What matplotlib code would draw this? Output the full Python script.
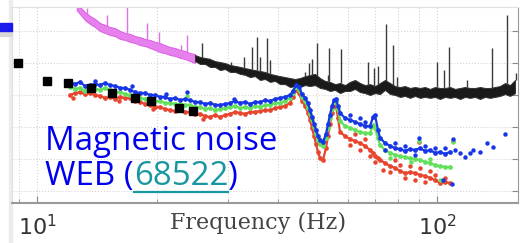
import numpy as np
import matplotlib
matplotlib.use("Agg")
from matplotlib import pyplot as plt
from matplotlib.lines import Line2D
from matplotlib.patches import Rectangle
from matplotlib.ticker import FixedLocator, LogLocator, NullFormatter

# y values are log10 of the noise amplitude (axis labels are cut off in the original)

# magenta trace (low frequency part): band top / bottom
mag_f = [12.57, 12.81, 13.18, 13.57, 13.96, 14.37, 14.79, 15.22, 15.67, 16.13, 16.60, 17.08,
         17.58, 18.09, 18.62, 19.17, 19.72, 20.30, 20.89, 21.50, 22.13, 22.78, 23.44, 24.13, 24.83]
mag_top = [3.90, 3.75, 3.59, 3.47, 3.38, 3.25, 3.19, 3.125, 3.09, 3.0, 2.94, 2.91,
           2.84, 2.81, 2.75, 2.72, 2.66, 2.625, 2.56, 2.5, 2.47, 2.41, 2.375, 2.31, 2.28]
mag_bot = [3.65, 3.53, 3.34, 3.22, 3.125, 3.0, 2.94, 2.875, 2.84, 2.75, 2.72, 2.66,
           2.625, 2.56, 2.53, 2.47, 2.41, 2.34, 2.31, 2.25, 2.22, 2.16, 2.125, 2.06, 2.0]
mag_spk_f = [13.34, 14.96, 16.79, 18.84, 20.18, 22.91, 23.71]
mag_spk_v = [3.72, 3.5, 3.81, 3.25, 2.97, 2.56, 2.875]

# black trace (high frequency part)
blk_f = [24.83, 25.56, 26.30, 27.07, 27.86, 28.68, 29.51, 30.37, 31.26, 32.17, 33.11, 34.08,
         35.08, 36.10, 37.15, 38.24, 39.36, 40.51, 41.69, 42.91, 44.16, 45.45, 46.77, 48.14,
         49.55, 51.00, 52.48, 54.01, 55.59, 57.21, 58.88, 60.60, 62.37, 64.19, 66.07, 68.00,
         69.98, 72.03, 74.13, 76.30, 78.52, 80.82, 83.18, 85.60, 88.10, 90.68, 93.33, 96.05,
         98.86, 101.7, 104.7, 107.8, 110.9, 114.2, 117.5, 120.9, 124.5, 128.1, 131.8, 135.7,
         139.6, 143.7, 147.9, 152.2, 156.7]
blk_top = [2.25, 2.19, 2.16, 2.125, 2.06, 2.03, 2.0, 1.94, 1.91, 1.88, 1.84, 1.81,
           1.78, 1.75, 1.72, 1.66, 1.625, 1.59, 1.56, 1.53, 1.5, 1.53, 1.59, 1.625,
           1.66, 1.53, 1.44, 1.41, 1.34, 1.375, 1.31, 1.41, 1.47, 1.375, 1.31, 1.34,
           1.28, 1.375, 1.47, 1.375, 1.28, 1.25, 1.28, 1.22, 1.25, 1.22, 1.25, 1.19,
           1.25, 1.22, 1.22, 1.25, 1.19, 1.22, 1.25, 1.22, 1.22, 1.25, 1.22, 1.22,
           1.25, 1.28, 1.375, 1.31, 1.47]
blk_bot = [2.06, 1.97, 1.97, 1.875, 1.875, 1.78, 1.81, 1.72, 1.72, 1.66, 1.63, 1.56,
           1.59, 1.47, 1.5, 1.41, 1.44, 1.34, 1.34, 1.25, 1.28, 1.25, 1.31, 1.28,
           1.31, 1.22, 1.19, 1.125, 1.16, 1.06, 1.125, 1.125, 1.19, 1.09, 1.06, 1.0,
           1.06, 1.03, 1.16, 1.03, 1.0, 0.94, 0.97, 0.91, 0.97, 0.91, 0.94, 0.91,
           0.94, 0.875, 0.94, 0.91, 0.94, 0.875, 0.94, 0.91, 0.94, 0.875, 0.94, 0.91,
           0.94, 0.97, 1.03, 0.97, 1.06]
blk_spk_f = [25.85, 26.92, 30.55, 32.92, 34.47, 35.48, 36.10, 37.58, 38.24, 46.77, 47.86, 48.70,
             50.12, 53.39, 53.70, 57.54, 67.22, 69.58, 71.19, 74.56, 77.62, 79.43, 100.0, 104.1,
             107.2, 118.9, 137.3, 149.6, 157.6]
blk_spk_v = [2.625, 2.16, 2.03, 2.19, 2.5, 2.81, 2.19, 2.78, 2.09, 1.72, 2.0, 2.125,
             2.625, 1.625, 2.47, 2.44, 2.03, 1.84, 1.91, 3.22, 2.56, 1.56, 2.03, 1.78,
             2.5, 1.47, 2.47, 3.5, 1.69]

# black squares
sq_f = [8.96, 10.59, 11.95, 13.65, 15.40, 17.58, 19.28, 22.65, 24.55]
sq_v = [1.99, 1.45, 1.39, 1.23, 1.07, 0.91, 0.82, 0.60, 0.50]

# dotted spectra (blue / green / red)
dot_f = [12.09, 12.45, 12.81, 13.18, 13.57, 13.96, 14.37, 14.79, 15.22, 15.67, 16.13, 16.60,
         17.08, 17.58, 18.09, 18.62, 19.17, 19.72, 20.30, 20.89, 21.50, 22.13, 22.78, 23.44,
         24.13, 24.83, 25.56, 26.30, 27.07, 27.86, 28.68, 29.51, 30.37, 31.26, 32.17, 33.11,
         34.08, 35.08, 36.10, 37.15, 38.24, 39.36, 40.51, 41.69, 42.91, 43.65, 44.42, 45.19,
         45.97, 46.77, 47.59, 48.14, 48.70, 49.26, 49.83, 50.41, 51.00, 51.88, 52.78, 53.39,
         54.01, 54.64, 55.27, 55.91, 56.56, 57.21, 58.88, 60.60, 62.37, 64.19, 66.07, 68.00,
         69.18, 69.98, 71.19, 72.03, 74.13, 76.30, 78.52, 80.82, 83.18, 85.60, 88.10, 90.68,
         93.33, 96.05, 98.86, 101.7, 104.7, 107.8]
blue_v = [1.41, 1.34, 1.41, 1.28, 1.31, 1.34, 1.31, 1.375, 1.31, 1.28, 1.22, 1.22,
          1.16, 1.09, 1.06, 1.06, 1.0, 1.0, 0.94, 0.94, 0.875, 0.91, 0.84, 0.875,
          0.84, 0.78, 0.78, 0.72, 0.75, 0.69, 0.69, 0.72, 0.75, 0.81, 0.75, 0.78,
          0.72, 0.78, 0.78, 0.84, 0.81, 0.875, 0.91, 0.94, 1.0, 1.125, 1.31, 1.25,
          1.03, 0.91, 0.75, 0.53, 0.31, 0.09, -0.09, -0.28, -0.41, -0.47, -0.22, 0.09,
          0.375, 0.66, 0.84, 0.875, 0.66, 0.44, 0.28, 0.22, 0.16, 0.09, 0.03, 0.03,
          0.31, 0.375, -0.09, -0.34, -0.5, -0.59, -0.66, -0.69, -0.75, -0.69, -0.72, -0.66,
          -0.75, -0.72, -0.81, -0.78, -0.84, -0.78]
green_v = [1.25, 1.19, 1.22, 1.125, 1.16, 1.19, 1.16, 1.22, 1.16, 1.09, 1.09, 1.03,
           1.0, 0.94, 0.91, 0.875, 0.875, 0.81, 0.81, 0.75, 0.75, 0.72, 0.72, 0.69,
           0.69, 0.625, 0.625, 0.56, 0.59, 0.53, 0.56, 0.59, 0.625, 0.66, 0.59, 0.625,
           0.59, 0.66, 0.625, 0.69, 0.69, 0.75, 0.75, 0.81, 0.91, 1.06, 1.25, 1.16,
           0.94, 0.81, 0.59, 0.41, 0.22, 0.0, -0.22, -0.41, -0.53, -0.59, -0.34, -0.03,
           0.28, 0.56, 0.78, 0.81, 0.56, 0.19, 0.03, -0.03, -0.09, -0.16, -0.19, -0.19,
           0.06, -0.03, -0.34, -0.56, -0.72, -0.81, -0.875, -0.91, -0.94, -0.97, -1.0, -1.03,
           -1.09, -1.125, -1.19, -1.22, -1.25, -1.25]
red_v = [1.0, 1.06, 1.09, 1.03, 1.06, 1.0, 0.97, 0.91, 0.94, 0.875, 0.94, 0.91,
         0.91, 0.81, 0.78, 0.72, 0.69, 0.625, 0.625, 0.56, 0.53, 0.5, 0.53, 0.47,
         0.47, 0.41, 0.41, 0.34, 0.31, 0.375, 0.31, 0.375, 0.41, 0.47, 0.44, 0.41,
         0.47, 0.47, 0.5, 0.53, 0.53, 0.59, 0.625, 0.66, 0.75, 0.94, 1.16, 1.06,
         0.81, 0.66, 0.44, 0.22, -0.03, -0.28, -0.53, -0.78, -0.97, -1.03, -0.66, -0.28,
         0.09, 0.44, 0.66, 0.66, 0.28, -0.16, -0.28, -0.375, -0.44, -0.5, -0.59, -0.72,
         -0.81, -0.91, -0.97, -1.03, -1.125, -1.22, -1.28, -1.375, -1.44, -1.41, -1.44, -1.5,
         -1.53, -1.59, -1.66, -1.75, -1.72, -1.75]
# scattered extra dots around the main bands
blue_x_f = [109.6, 90.16, 103.5, 109.0, 114.2, 117.5, 120.9, 123.0, 128.1, 133.4, 138.0, 147.9,
            74.13, 78.52, 83.18, 88.10, 93.33, 98.86, 104.7, 110.9, 60.60, 64.19, 66.07, 23.71,
            14.0, 17.3, 21.0, 31.0]
blue_x_v = [-0.375, -0.34, -1.66, -1.78, -0.81, -0.94, -0.81, -0.72, -0.78, -0.5, -0.625, -0.22,
            -0.72, -0.5, -0.59, -0.875, -0.59, -0.66, -0.66, -0.72, 0.375, 0.28, 0.16, 1.09,
            1.44, 1.28, 1.03, 0.875]
green_x_f = [90.16, 101.7, 109.6, 23.71, 76.3, 86.0, 96.0]
green_x_v = [-0.44, -1.66, -0.47, 0.97, -0.97, -1.09, -1.0]
red_x_f = [90.16, 109.6, 73.28, 76.30, 78.52, 80.82, 83.18, 85.60, 88.10, 90.68, 93.33, 96.05,
           98.86, 104.7, 64.19, 66.07, 68.00, 69.98, 60.60, 62.37, 12.3, 16.0, 19.5, 26.0]
red_x_v = [-0.47, -0.44, -1.34, -1.41, -1.03, -1.19, -1.59, -1.22, -1.66, -1.28, -1.72, -1.375,
           -1.5, -1.59, -0.72, -0.375, -0.91, -1.09, -0.56, -0.22, 0.91, 0.81, 0.56, 0.25]

x_ticks = [10, 100]
x_tick_labels = ['$10^{1}$', '$10^{2}$']

W, H = 525, 243
fig = plt.figure(figsize=(W / 100, H / 100), dpi=100)
ax = fig.add_axes([12 / W, 40 / H, 506 / W, 196 / H])

ax.set_xscale('log')
ax.set_xlim(8.66, 159.4)
ax.set_ylim(-2.375, 3.75)

# noisy traces drawn as bands between their edges, spikes on top
ax.fill_between(mag_f, mag_bot, mag_top, facecolor='#e680ec', edgecolor='#dc5ce2',
                lw=0.7, zorder=2)
ax.fill_between(blk_f, blk_bot, blk_top, facecolor='#1a1a1a', edgecolor='#333333',
                lw=0.7, zorder=2)
mag_base = np.interp(np.log10(mag_spk_f), np.log10(mag_f), mag_top)
blk_base = np.interp(np.log10(blk_spk_f), np.log10(blk_f), blk_top)
ax.vlines(mag_spk_f, mag_base, mag_spk_v, color='#e070e6', lw=1.0, zorder=2)
ax.vlines(blk_spk_f, blk_base, blk_spk_v, color='#3a3a3a', lw=1.0, zorder=2)

# dotted spectra
for vals, xf, xv, col in [(red_v, red_x_f, red_x_v, '#e8452f'),
                          (green_v, green_x_f, green_x_v, '#62e05c'),
                          (blue_v, blue_x_f, blue_x_v, '#1737e6')]:
    ax.plot(dot_f, vals, '-', color=col, lw=1.6, zorder=3)
    ax.plot(dot_f, vals, 'o', color=col, ms=3.4, mew=0, zorder=3)
    ax.plot(xf, xv, 'o', color=col, ms=3.2, mew=0, zorder=3)

ax.plot(sq_f, sq_v, 's', color='black', ms=5.5, zorder=4)

# axes styling
ax.xaxis.set_major_locator(FixedLocator(x_ticks))
ax.set_xticklabels(x_tick_labels)
ax.xaxis.set_minor_locator(LogLocator(base=10, subs=np.arange(2, 10)))
ax.xaxis.set_minor_formatter(NullFormatter())
ax.set_yticks([-2, -1, 0, 1, 2, 3])
ax.yaxis.tick_right()
ax.tick_params(axis='y', direction='in', length=4, color='#888888', labelright=False)
ax.tick_params(axis='x', which='major', direction='in', length=5, color='#888888',
               labelsize=16, labelcolor='#333333', pad=8)
ax.tick_params(axis='x', which='minor', direction='in', length=3, color='#888888')
ax.grid(True, which='both', color='#d4d4d4', ls=':', lw=0.8, zorder=0)
for side in ['top', 'left']:
    ax.spines[side].set_color('#e0e0e0')
ax.spines['right'].set_color('#999999')
ax.spines['bottom'].set_color('#999999')
ax.spines['bottom'].set_linewidth(1.5)

fig.text(258 / W, 14 / H, 'Frequency (Hz)', family='DejaVu Serif', fontsize=16,
         color='#444444', ha='center', va='baseline')

# slide decoration: blue bar and card shadow
fig.add_artist(Rectangle((9 / W, 0), 3 / W, 1, transform=fig.transFigure,
                         color='#ececec', zorder=0))
fig.add_artist(Rectangle((0, (H - 36) / H), 12 / W, 5 / H, transform=fig.transFigure,
                         color='#d8d8d8', zorder=1))
fig.add_artist(Rectangle((0, (H - 31) / H), 12 / W, 8 / H, transform=fig.transFigure,
                         color='#1a1aee', zorder=2))

# overlay text
txt_blue = '#0000ee'
txt_teal = '#1797a0'
txt_font = dict(family='Open Sans', fontsize=23.8, va='baseline', zorder=5)
fig.text(45 / W, (H - 150) / H, 'Magnetic noise', color=txt_blue, **txt_font)
r = fig.canvas.get_renderer()
t1 = fig.text(45 / W, (H - 185) / H, 'WEB (', color=txt_blue, **txt_font)
b1 = t1.get_window_extent(r)
t2 = fig.text(b1.x1 / W, (H - 185) / H, '68522', color=txt_teal, **txt_font)
b2 = t2.get_window_extent(r)
fig.text(b2.x1 / W, (H - 185) / H, ')', color=txt_blue, **txt_font)
fig.add_artist(Line2D([b2.x0 / W, b2.x1 / W], [(H - 192) / H] * 2, transform=fig.transFigure,
                      color=txt_teal, lw=1.6, zorder=5))

fig.savefig('out.png', dpi=100)
